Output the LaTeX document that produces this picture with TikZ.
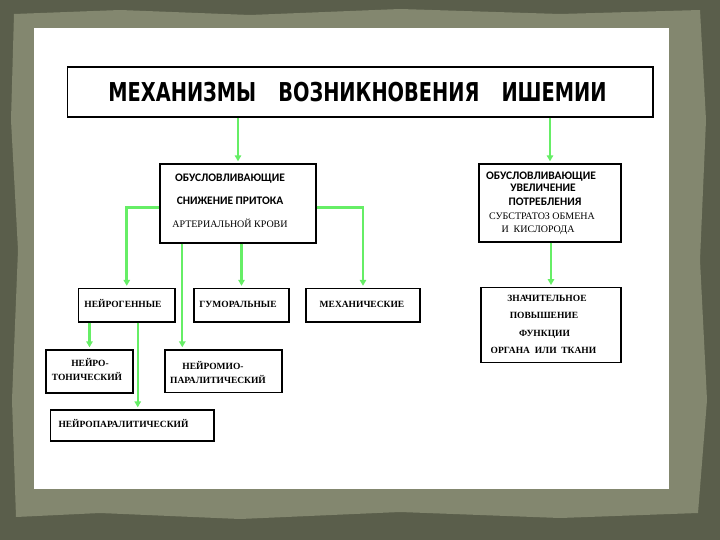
\documentclass[tikz,border=0pt]{standalone}
\usepackage{fontspec}
\setmainfont{Liberation Serif}
\newfontfamily\headfont[FakeStretch=0.745]{DejaVu Sans}
\newfontfamily\calfont{Carlito}
\usetikzlibrary{positioning, arrows.meta}
\definecolor{SlateDark}{HTML}{5A5E4B}
\definecolor{SlateFrame}{HTML}{83876F}
\definecolor{ArrowGreen}{HTML}{66EE66}

\begin{document}
\begin{tikzpicture}[x=1pt, y=-1pt,
    box/.style={draw=black, line width=1.4pt, fill=white, inner sep=0pt},
    arr/.style={draw=ArrowGreen, line width=2.2pt, -{Triangle[length=6pt, width=6.5pt]}, shorten >=2pt},
    headlbl/.style={font=\headfont\bfseries\fontsize{26}{30}\selectfont, inner sep=0pt, text height=19pt, text depth=0pt},
    sanslbl/.style={font=\calfont\bfseries\fontsize{11.5}{13}\selectfont, inner sep=0pt, text height=7.4pt, text depth=0pt},
    seriflbl/.style={font=\fontsize{10}{12}\selectfont, inner sep=0pt, text height=6.6pt, text depth=0pt},
    boldlbl/.style={font=\bfseries\fontsize{9.5}{11}\selectfont, inner sep=0pt, text height=6.3pt, text depth=0pt}]

      % --- Background ---
      % Dark slate, a torn lighter frame, then the white sheet on top.
      \useasboundingbox (0,0) rectangle (720,540);
      \fill[SlateDark] (0,0) rectangle (720,540);
      \fill[SlateFrame] (14,14) -- (120,10) -- (250,15) -- (400,9) -- (560,14) -- (700,10)
            -- (706,120) -- (700,260) -- (707,400) -- (698,513) -- (560,518) -- (400,512)
            -- (240,519) -- (100,513) -- (16,517) -- (12,400) -- (18,250) -- (11,120) -- cycle;
      \fill[white] (34,28) rectangle (669,489);

      % --- Boxes ---
      \node[box, line width=1.8pt, minimum width=585.5pt, minimum height=50pt] (title) at (360.25,92) {};
      \node[box, minimum width=156pt, minimum height=79pt]   (supply)  at (238,203.5)   {};
      \node[box, minimum width=142pt, minimum height=78pt]   (demand)  at (550,203)     {};
      \node[box, minimum width=140pt, minimum height=74.5pt] (organ)   at (551,325)     {};
      \node[box, minimum width=96.5pt, minimum height=33.5pt] (neuro)  at (126.75,305.25) {};
      \node[box, minimum width=95pt, minimum height=33.5pt]  (humoral) at (241.5,305.25) {};
      \node[box, minimum width=114pt, minimum height=33.5pt] (mechan)  at (363,305.25)  {};
      \node[box, minimum width=87pt, minimum height=43pt]    (tonic)   at (89.5,371.5)  {};
      \node[box, minimum width=117pt, minimum height=42.5pt] (myopar)  at (223.5,371.25) {};
      \node[box, minimum width=163.5pt, minimum height=31pt] (neuropar) at (132.25,425.5) {};

      % --- Arrows ---
      \draw[arr] (title.south -| supply.north) -- (supply.north);
      \draw[arr] (title.south -| demand.north) -- (demand.north);
      \draw[arr, line width=2.8pt] ([yshift=-4pt]supply.west) -| (neuro.north);
      \draw[arr, line width=2.8pt] ([yshift=-4pt]supply.east) -| (mechan.north);
      \draw[arr] (supply.south -| humoral.north) -- (humoral.north);
      \draw[arr] ([xshift=23pt]supply.south west) -- ([xshift=23pt]supply.south west |- myopar.north);
      \draw[arr] (neuro.south -| tonic.north) -- (tonic.north);
      \draw[arr] ([xshift=11pt]neuro.south) -- ([xshift=11pt]neuro.south |- neuropar.north);
      \draw[arr] (demand.south -| organ.north) -- (organ.north);

      % --- Text Labels ---
      % Title
      \node[headlbl] at (357.5,92.5) {МЕХАНИЗМЫ\hspace{22pt}ВОЗНИКНОВЕНИЯ\hspace{22pt}ИШЕМИИ};

      % Reduced inflow
      \node[sanslbl]  at (230,178) {ОБУСЛОВЛИВАЮЩИЕ};
      \node[sanslbl]  at (230,201) {СНИЖЕНИЕ ПРИТОКА};
      \node[seriflbl] at (230,224) {АРТЕРИАЛЬНОЙ КРОВИ};

      % Increased demand
      \node[sanslbl]  at (541,175.6) {ОБУСЛОВЛИВАЮЩИЕ};
      \node[sanslbl]  at (543,188)   {УВЕЛИЧЕНИЕ};
      \node[sanslbl]  at (545,202)   {ПОТРЕБЛЕНИЯ};
      \node[seriflbl] at (542,216)   {СУБСТРАТОЗ ОБМЕНА};
      \node[seriflbl] at (538,229)   {И~~КИСЛОРОДА};

      \node[boldlbl] at (547,298)   {ЗНАЧИТЕЛЬНОЕ};
      \node[boldlbl] at (544,315)   {ПОВЫШЕНИЕ};
      \node[boldlbl] at (544.5,333) {ФУНКЦИИ};
      \node[boldlbl] at (543.5,350) {ОРГАНА~~ИЛИ~~ТКАНИ};

      % Kinds of inflow loss
      \node[boldlbl] at (123,304) {НЕЙРОГЕННЫЕ};
      \node[boldlbl] at (238,304) {ГУМОРАЛЬНЫЕ};
      \node[boldlbl] at (362,304) {МЕХАНИЧЕСКИЕ};

      \node[boldlbl] at (90,363)  {НЕЙРО-};
      \node[boldlbl] at (87,377)  {ТОНИЧЕСКИЙ};
      \node[boldlbl] at (213,366) {НЕЙРОМИО-};
      \node[boldlbl] at (218,380) {ПАРАЛИТИЧЕСКИЙ};
      \node[boldlbl] at (123.5,424) {НЕЙРОПАРАЛИТИЧЕСКИЙ};
  \end{tikzpicture}
\end{document}
